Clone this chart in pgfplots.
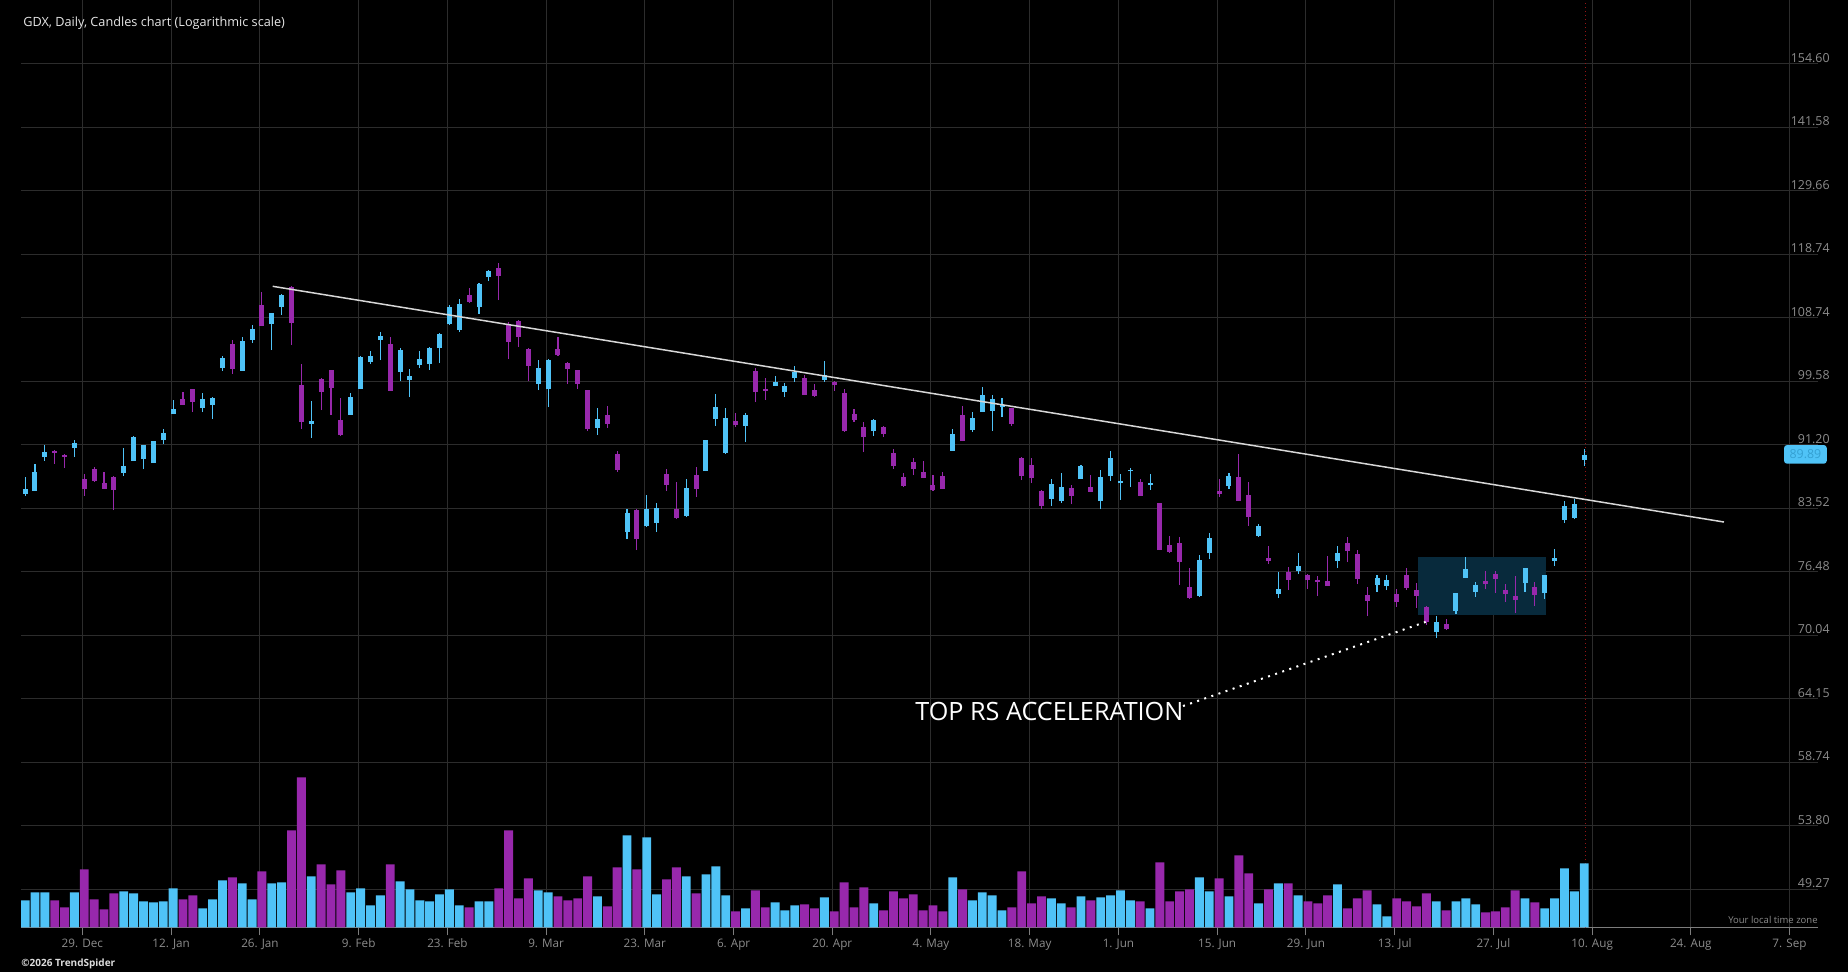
\documentclass[border=0pt]{standalone}
\usepackage{fontspec}
\setmainfont{Open Sans}
\usepackage{pgfplots}
\pgfplotsset{compat=1.18}
\usepackage{pgfplotstable}
\definecolor{upc}{RGB}{79,195,247}
\definecolor{dnc}{RGB}{152,40,172}
\definecolor{gridc}{RGB}{44,44,44}
\definecolor{labc}{RGB}{140,140,140}
\definecolor{axisc}{RGB}{125,125,125}
\definecolor{boxc}{RGB}{8,42,60}
\definecolor{trendc}{RGB}{215,215,215}
\definecolor{vlinec}{RGB}{150,20,20}
\definecolor{tagtext}{RGB}{52,160,210}

\pgfplotstableread{
i o h l c v
-6 85.20 87.22 84.96 85.79 27
-5 85.59 88.81 85.59 87.83 35
-4 89.67 91.18 89.21 90.29 35
-1 90.79 91.81 89.67 91.43 35
4 87.71 90.79 87.34 88.56 36
5 89.18 92.32 89.18 92.19 34
6 89.42 91.18 88.19 91.18 26
7 88.93 91.68 88.93 91.68 25
8 91.81 93.22 91.30 92.71 26
9 95.17 97.04 95.17 95.83 39
12 95.97 97.98 95.44 97.17 19
13 96.37 97.44 94.52 97.31 28
14 101.44 103.14 101.02 102.85 47
16 101.02 105.89 101.02 105.31 44
17 105.45 107.67 105.02 107.07 28
19 107.81 109.47 104.00 109.47 44
20 110.38 112.39 109.17 112.23 45
23 93.87 96.91 92.06 94.26 51
27 95.05 97.98 95.05 97.44 35
28 98.53 103.14 98.53 102.99 39
29 102.28 103.86 102.00 103.14 22
30 105.45 106.62 102.56 106.04 32
32 100.88 104.29 99.63 104.00 46
33 99.77 101.30 97.44 100.33 38
34 101.86 103.86 101.44 102.70 27
35 102.00 104.43 101.16 104.29 26
36 104.29 106.48 102.14 106.33 33
37 107.81 110.69 107.67 110.38 38
38 106.92 111.61 106.62 110.84 22
40 110.38 114.11 109.32 113.96 26
41 115.07 116.19 114.43 116.03 26
46 99.22 102.56 98.39 101.44 37
47 98.53 102.70 96.10 102.56 35
52 93.35 95.97 92.45 94.52 31
55 80.83 83.44 80.04 82.98 92
57 81.51 85.08 81.39 83.44 90
58 81.83 84.14 80.83 83.56 33
61 82.63 86.98 82.52 85.91 51
63 87.95 91.81 87.95 91.81 53
64 94.52 97.85 93.61 96.10 61
65 90.17 95.97 90.04 94.65 32
67 93.61 95.30 91.56 95.05 19
70 98.94 100.33 98.94 99.49 25
71 98.12 99.36 97.44 98.94 17
72 100.05 101.72 99.49 100.88 22
75 99.77 102.42 99.49 100.47 30
80 92.96 94.52 92.32 94.39 24
88 90.42 93.22 90.42 92.58 50
90 93.09 95.44 92.84 94.65 27
91 95.44 98.80 95.44 97.71 35
92 95.57 97.71 92.96 97.17 32
93 96.10 97.31 94.78 96.37 17
98 84.61 86.98 83.79 86.38 29
99 84.37 87.71 84.14 86.02 24
101 86.98 88.68 86.98 88.56 31
103 84.37 88.07 83.44 87.22 30
104 87.34 90.42 86.74 89.54 32
105 86.50 87.59 84.49 86.74 37
106 87.95 88.31 86.02 88.07 27
108 86.26 87.59 85.67 86.50 19
113 73.97 78.29 73.87 77.75 50
114 78.50 80.72 77.86 80.15 36
116 86.14 87.71 85.79 87.34 31
119 80.38 81.73 80.27 81.51 24
121 74.17 76.47 73.76 74.68 44
123 76.58 78.50 76.26 77.11 32
127 77.64 79.27 76.89 78.50 43
131 75.10 76.15 74.38 75.84 23
132 75.00 76.15 74.58 75.63 11
137 70.37 71.95 69.79 71.35 26
139 72.45 74.28 72.15 74.28 26
140 75.84 78.07 75.84 76.79 29
141 74.38 75.42 73.87 75.10 23
146 75.31 76.89 74.38 76.89 29
148 74.28 76.15 73.66 76.15 19
149 77.64 78.94 77.11 77.97 29
150 82.17 84.37 81.83 83.79 59
151 82.40 84.61 82.29 84.02 36
152 89.30 90.67 88.56 89.89 64
}\uptable

\pgfplotstableread{
i o h l c v
-3 90.42 90.54 88.84 90.17 27
-2 89.92 90.04 88.35 89.67 20
0 86.98 87.59 84.96 85.79 58
1 88.19 88.44 86.62 86.74 28
2 86.50 87.83 85.79 85.79 18
3 87.22 87.34 83.32 85.67 34
10 97.17 98.12 96.37 96.37 28
11 98.53 98.53 95.44 96.77 32
15 104.87 105.45 100.61 101.30 50
18 110.69 112.70 107.52 107.52 56
21 113.48 113.64 104.72 107.96 97
22 99.08 102.00 93.22 94.13 150
24 99.91 100.05 95.70 98.12 63
25 101.16 101.16 95.05 98.67 43
26 94.39 97.31 92.32 92.45 57
31 104.87 105.89 98.26 98.26 63
39 112.23 113.33 110.99 111.14 20
42 116.51 117.32 111.45 115.23 39
43 107.81 108.11 102.70 105.16 97
44 108.26 108.41 104.43 105.89 29
45 104.15 104.29 99.63 101.72 49
48 104.15 105.89 103.14 103.28 31
49 102.14 102.28 99.22 101.30 27
50 101.16 101.16 98.53 99.22 29
51 98.39 98.39 92.96 93.22 51
53 95.05 96.23 93.35 93.87 21
54 90.04 90.42 87.83 88.07 60
56 83.32 83.44 78.83 80.04 58
59 87.59 88.19 85.55 86.26 48
60 83.44 86.62 82.29 82.40 60
62 87.46 88.44 84.84 85.79 34
66 94.26 95.30 93.48 93.74 16
68 101.02 101.44 96.77 98.12 37
69 98.53 100.05 97.04 98.26 20
73 100.05 100.47 97.71 97.71 23
74 98.39 99.22 97.44 97.58 19
76 99.49 99.63 98.26 99.08 16
77 97.98 98.53 92.84 92.96 45
78 95.17 95.83 94.13 94.39 20
79 93.48 94.13 90.29 92.19 40
81 93.48 93.61 92.19 92.58 17
82 90.17 90.67 88.19 88.56 36
83 87.22 87.71 86.02 86.14 29
84 89.05 89.54 87.46 88.19 33
85 87.83 89.18 87.10 87.10 17
86 86.26 87.46 85.55 85.67 22
87 87.34 87.83 85.79 85.79 16
89 95.05 96.23 91.68 91.68 38
94 95.97 95.97 93.61 93.87 20
95 89.54 89.67 86.86 87.34 56
96 88.68 89.54 86.50 87.10 24
97 85.55 85.67 83.44 83.79 31
100 85.91 86.26 84.02 84.96 20
102 86.02 87.46 85.43 85.43 27
107 86.62 86.98 84.96 84.96 26
109 84.14 84.14 78.83 78.83 65
110 79.38 80.38 78.50 78.61 26
111 79.60 80.27 75.10 77.54 36
112 74.89 76.89 73.66 73.76 38
115 85.55 86.98 84.84 85.20 49
117 87.22 90.04 84.37 84.37 72
118 85.08 86.62 81.51 82.52 54
120 77.97 79.27 77.32 77.64 38
122 76.47 77.00 74.58 75.63 44
124 76.15 76.26 74.68 75.63 26
125 75.63 76.05 73.97 75.42 24
126 75.52 78.18 75.00 75.00 32
128 79.60 80.27 77.54 78.72 19
129 78.40 78.83 75.21 75.73 29
130 74.07 74.89 71.95 73.46 37
133 74.17 74.68 72.85 73.36 29
134 76.15 76.89 74.58 74.79 26
135 74.58 75.31 72.75 73.97 21
136 72.85 72.95 71.06 71.35 34
138 71.16 71.65 70.57 70.67 17
142 75.52 76.58 74.68 75.21 15
143 76.26 76.58 74.28 75.73 16
144 74.58 75.21 73.36 74.17 20
145 73.97 76.05 72.25 73.56 37
147 74.89 75.42 72.95 74.07 25
}\dntable

\begin{document}
\begin{tikzpicture}
\fill[black] (0,0) rectangle (924pt,486pt);
\begin{axis}[
  at={(10.5pt,22.35pt)}, anchor=south west,
  scale only axis, width=898.5pt, height=463.65pt,
  xmin=-6.415, xmax=175.69,
  ymin=3.8447, ymax=5.1292,
  y filter/.expression={ln(y)},
  axis x line*=bottom, axis y line*=right,
  y axis line style={draw=none},
  x axis line style={color=axisc, line width=0.5pt},
  xtick={-0.2,8.8,17.8,27.8,36.8,46.8,56.8,65.8,75.8,85.8,95.8,104.8,114.8,123.8,132.8,142.8,152.8,162.8,172.8},
  xticklabels={29. Dec,12. Jan,26. Jan,9. Feb,23. Feb,9. Mar,23. Mar,6. Apr,20. Apr,4. May,18. May,1. Jun,15. Jun,29. Jun,13. Jul,27. Jul,10. Aug,24. Aug,7. Sep},
  ytick={3.8973,3.9853,4.0733,4.1612,4.2492,4.3371,4.4251,4.5131,4.6010,4.6890,4.7769,4.8649,4.9529,5.0408},
  yticklabels={49.27,53.80,58.74,64.15,70.04,76.48,83.52,91.20,99.58,108.74,118.74,129.66,141.58,154.60},
  xmajorgrids, ymajorgrids,
  major grid style={color=gridc, line width=0.5pt},
  tick align=outside, major tick length=4pt,
  xtick style={color=axisc, line width=0.5pt},
  ytick style={draw=none},
  xticklabel style={font=\fontsize{5.85pt}{6pt}\selectfont, text=labc, inner sep=0pt, anchor=base, yshift=-6pt},
  yticklabel style={font=\fontsize{6.2pt}{7pt}\selectfont, text=labc, inner sep=0pt, anchor=east, xshift=2pt, yshift=3pt},
]
% consolidation box
\addplot[fill=boxc, draw=none] coordinates {(135.15,72.05) (148.13,72.05) (148.13,78.07) (135.15,78.07)};
% current-day marker
\addplot[vlinec, line width=0.5pt, dash pattern=on 0.5pt off 1.5pt] coordinates {(152.15,40) (152.15,200)};
% wicks
\addplot[upc, line width=0.55pt, quiver={u=0, v={ln(\thisrow{h})-ln(\thisrow{l})}}] table[x=i, y=l]{\uptable};
\addplot[dnc, line width=0.55pt, quiver={u=0, v={ln(\thisrow{h})-ln(\thisrow{l})}}] table[x=i, y=l]{\dntable};
% bodies
\addplot[upc, line width=2.5pt, quiver={u=0, v={ln(\thisrow{c})-ln(\thisrow{o})}}] table[x=i, y=o]{\uptable};
\addplot[dnc, line width=2.5pt, quiver={u=0, v={ln(\thisrow{o})-ln(\thisrow{c})}}] table[x=i, y=c]{\dntable};
% trend line
\addplot[trendc, line width=0.75pt] coordinates {(19.09,113.59) (166.16,81.95)};
% dotted pointer
\addplot[white, line width=1pt, dash pattern=on 1pt off 2.75pt] coordinates {(111.34,63.51) (135.93,71.37)};
\end{axis}
\begin{axis}[
  at={(10.5pt,22.35pt)}, anchor=south west,
  scale only axis, width=898.5pt, height=463.65pt,
  xmin=-6.415, xmax=175.69, ymin=0, ymax=927.3,
  hide axis,
]
\addplot[ybar, bar width=0.9, bar shift=0pt, fill=upc, draw=none] table[x=i, y=v]{\uptable};
\addplot[ybar, bar width=0.9, bar shift=0pt, fill=dnc, draw=none] table[x=i, y=v]{\dntable};
\end{axis}
\node[anchor=base west, inner sep=0pt, text={rgb,255:red,230;green,230;blue,230}, font=\fontsize{6.35pt}{7pt}\selectfont] at (11.5pt,472.5pt) {GDX, Daily, Candles chart (Logarithmic scale)};
\node[anchor=base west, inner sep=0pt, text=white, font=\fontsize{12.6pt}{14pt}\selectfont] at (457.5pt,125.5pt) {TOP RS ACCELERATION};
\node[anchor=base east, inner sep=0pt, text=labc, font=\fontsize{4.75pt}{5.5pt}\selectfont] at (909pt,24pt) {Your local time zone};
\node[anchor=base west, inner sep=0pt, text={rgb,255:red,220;green,220;blue,220}, font=\fontsize{5pt}{6pt}\selectfont\bfseries] at (10.5pt,2.5pt) {©2026 TrendSpider};
\node[fill=upc, rounded corners=1.5pt, minimum width=21.35pt, minimum height=9.35pt, inner sep=0pt, text=tagtext, font=\fontsize{6.2pt}{7pt}\selectfont] at (902.7pt,258.8pt) {89.89};
\pgfresetboundingbox
\path[use as bounding box] (0,0) rectangle (924pt,486pt);
\end{tikzpicture}
\end{document}
